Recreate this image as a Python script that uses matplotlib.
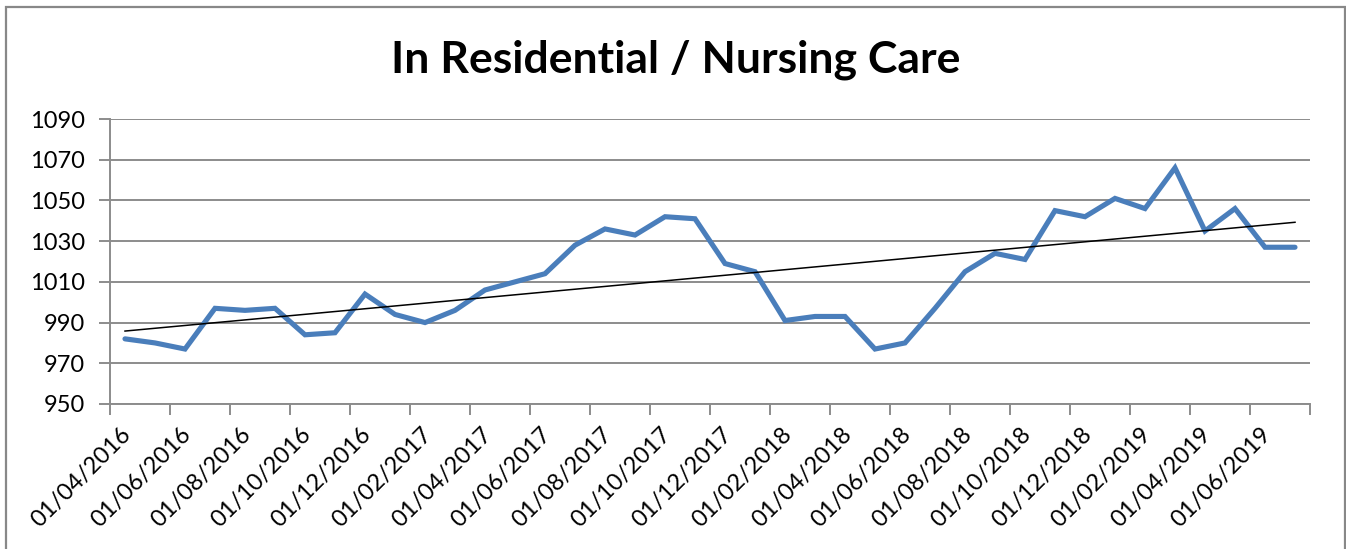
import matplotlib
matplotlib.use("Agg")
import matplotlib.pyplot as plt
from matplotlib.patches import Rectangle
from matplotlib.transforms import ScaledTranslation, blended_transform_factory
import numpy as np

title = "In Residential / Nursing Care"
months = ["01/04/2016", "01/05/2016", "01/06/2016", "01/07/2016", "01/08/2016", "01/09/2016",
          "01/10/2016", "01/11/2016", "01/12/2016", "01/01/2017", "01/02/2017", "01/03/2017",
          "01/04/2017", "01/05/2017", "01/06/2017", "01/07/2017", "01/08/2017", "01/09/2017",
          "01/10/2017", "01/11/2017", "01/12/2017", "01/01/2018", "01/02/2018", "01/03/2018",
          "01/04/2018", "01/05/2018", "01/06/2018", "01/07/2018", "01/08/2018", "01/09/2018",
          "01/10/2018", "01/11/2018", "01/12/2018", "01/01/2019", "01/02/2019", "01/03/2019",
          "01/04/2019", "01/05/2019", "01/06/2019", "01/07/2019"]
values = [982, 980, 977, 997, 996, 997, 984, 985, 1004, 994, 990, 996,
          1006, 1010, 1014, 1028, 1036, 1033, 1042, 1041, 1019, 1015, 991, 993,
          993, 977, 980, 997, 1015, 1024, 1021, 1045, 1042, 1051, 1046, 1066,
          1035, 1046, 1027, 1027]
tick_labels = months[::2]
y_ticks = [950, 970, 990, 1010, 1030, 1050, 1070, 1090]

FONT = ["Lato", "DejaVu Sans"]
GRID = "#8c8c8c"

fig = plt.figure(figsize=(13.46, 5.49), dpi=100)
W, H = 1346, 549
ax = fig.add_axes([110 / W, 1 - 404 / H, 1200 / W, 285 / H])

x = np.arange(len(values))
ax.plot(x, values, color="#4a7ebb", lw=3.7, solid_joinstyle="miter", solid_capstyle="round", zorder=3)
coef = np.polyfit(x, values, 1)
ax.plot(x, np.polyval(coef, x), color="black", lw=1.1, zorder=4)

ax.set_xlim(-0.5, len(values) - 0.5)
ax.set_ylim(y_ticks[0], y_ticks[-1])
ax.set_yticks(y_ticks)
ax.set_yticklabels([str(v) for v in y_ticks], fontfamily=FONT, fontsize=17)
ax.yaxis.grid(True, color=GRID, lw=1.4)
ax.set_axisbelow(True)

xt = np.arange(-0.5, len(values), 2)
ax.set_xticks(xt)
ax.set_xticklabels([])
trans = blended_transform_factory(ax.transData, ax.transAxes) + \
    ScaledTranslation(18 / 100, -27 / 100, fig.dpi_scale_trans)
for pos, lab in zip(xt, tick_labels):
    ax.text(pos, 0, lab, transform=trans, rotation=45, ha="right", va="center",
            rotation_mode="anchor", fontfamily=FONT, fontsize=17, clip_on=False)
ax.tick_params(axis="x", direction="out", length=8, width=1.4, color=GRID)
ax.tick_params(axis="y", direction="out", length=8, width=1.4, color=GRID, pad=10)
for s in ["top", "right"]:
    ax.spines[s].set_visible(False)
for s in ["left", "bottom"]:
    ax.spines[s].set_color(GRID)
    ax.spines[s].set_linewidth(1.4)

fig.text(676 / W, 1 - 60 / H, title, ha="center", va="center", fontsize=32,
         fontweight="bold", fontfamily=FONT)

fig.patches.append(Rectangle((6 / W, -0.05), 1339 / W, 1 - 7 / H + 0.05, transform=fig.transFigure,
                             fill=False, edgecolor="#888888", lw=1.6))

fig.savefig("out.png", dpi=100)
